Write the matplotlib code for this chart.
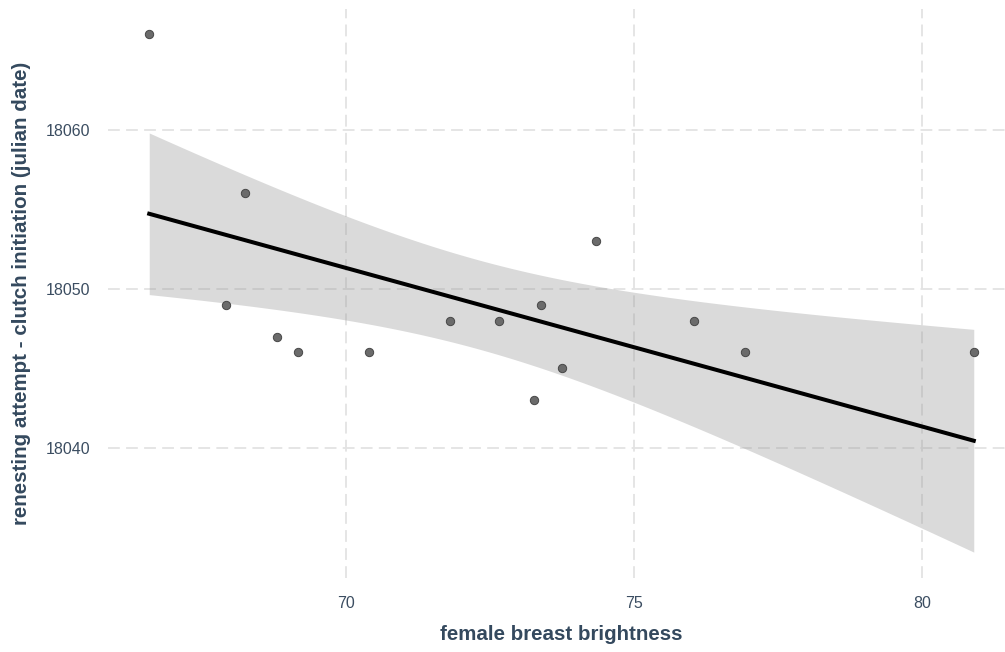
import numpy as np
import matplotlib
matplotlib.use("Agg")
import matplotlib.pyplot as plt

# Female breast brightness vs. julian date of the renesting attempt's clutch initiation
brightness = [66.59, 67.93, 68.25, 68.80, 69.17, 70.40, 71.80, 72.65,
              73.27, 73.39, 73.74, 74.33, 76.04, 76.93, 80.89]
clutch_date = [18066, 18049, 18056, 18047, 18046, 18046, 18048, 18048,
               18043, 18049, 18045, 18053, 18048, 18046, 18046]

# Linear trend (fitted values at both ends of the brightness range)
trend_ends = [18054.72, 18040.45]
# Residual standard error of the trend model, for its 95% confidence band
trend_sigma = 5.02

x_ticks = [70, 75, 80]
y_ticks = [18040, 18050, 18060]

plt.rcParams['font.family'] = ['Liberation Sans', 'DejaVu Sans']
plt.rcParams['lines.scale_dashes'] = False

x = np.asarray(brightness, dtype=float)
y = np.asarray(clutch_date, dtype=float)

n = len(x)
x0, x1 = x.min(), x.max()
slope = (trend_ends[1] - trend_ends[0]) / (x1 - x0)
xs = np.linspace(x0, x1, 200)
fit = trend_ends[0] + slope * (xs - x0)
sxx = np.sum((x - x.mean()) ** 2)
t_crit = 2.160368652  # t(0.975, df=13)
se = trend_sigma * np.sqrt(1.0 / n + (xs - x.mean()) ** 2 / sxx)
lo, hi = fit - t_crit * se, fit + t_crit * se

fig = plt.figure(figsize=(10.05, 6.52), dpi=100)
ax = fig.add_axes([108 / 1005, 74 / 652, 907 / 1005, 569.5 / 652])

grid_kw = dict(color='#e3e3e3', linewidth=1.3, linestyle=(0, (8.5, 4.5)), zorder=0)
for gx in x_ticks:
    ax.axvline(gx, **grid_kw)
for gy in y_ticks:
    ax.axhline(gy, **grid_kw)

ax.fill_between(xs, lo, hi, color='#999999', alpha=0.36, linewidth=0, zorder=1)
ax.plot(xs, fit, color='black', linewidth=2.9, zorder=2)
ax.plot(x, y, linestyle='none', marker='o', markersize=6.0,
        markerfacecolor='#6b6b6b', markeredgecolor='#474747',
        markeredgewidth=0.7, zorder=3)

# 5% padding around the data and band
xr = x1 - x0
ax.set_xlim(x0 - 0.05 * xr, x1 + 0.05 * xr)
ymin = min(y.min(), lo.min())
ymax = max(y.max(), hi.max())
yr = ymax - ymin
ax.set_ylim(ymin - 0.05 * yr, ymax + 0.05 * yr)

ax.set_xticks(x_ticks)
ax.set_yticks(y_ticks)
text_color = '#3b4d61'
ax.tick_params(length=0, labelsize=11.5, colors=text_color, pad=13)
for sp in ax.spines.values():
    sp.set_visible(False)

ax.set_xlabel('female breast brightness', fontsize=14.8, fontweight='bold',
              color='#34495e', labelpad=10)
ax.set_ylabel('renesting attempt - clutch initiation (julian date)', fontsize=14.8,
              fontweight='bold', color='#34495e', labelpad=10)

fig.savefig('out.png', dpi=100)
